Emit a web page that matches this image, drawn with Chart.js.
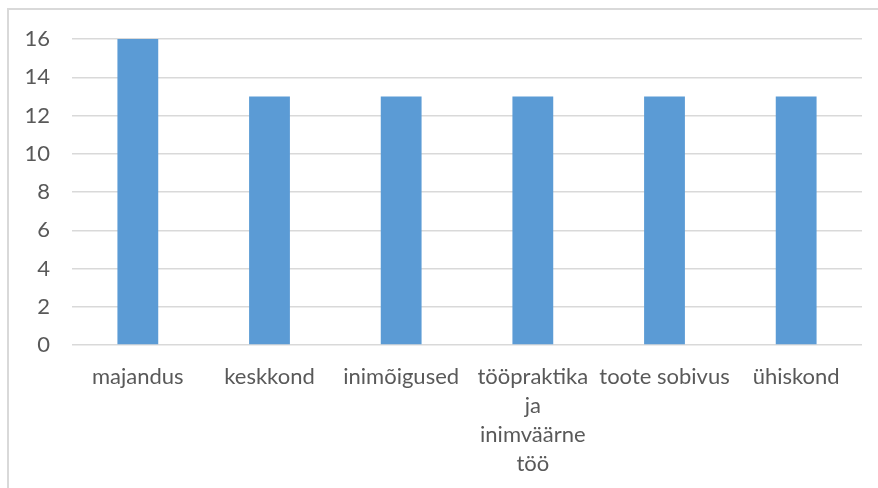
<!DOCTYPE html>
<html>
<head>
<meta charset="utf-8">
<script src="https://cdn.jsdelivr.net/npm/chart.js@4/dist/chart.umd.min.js"></script>
<style>
  html, body { margin: 0; padding: 0; background: #fff; overflow: hidden; }
  #box { position: absolute; left: 0; top: 0; width: 878px; height: 488px; }
  #frame { position: absolute; left: 7px; top: 8px; width: 900px; height: 520px; border: 2px solid #d9d9d9; }
</style>
</head>
<body>
<div id="frame"></div>
<div id="box"><canvas id="chart"></canvas></div>
<script>
const categories = [
  'majandus',
  'keskkond',
  'inimõigused',
  ['tööpraktika', 'ja', 'inimväärne', 'töö'],
  'toote sobivus',
  'ühiskond'
]
const values = [16, 13, 13, 13, 13, 13]
const yTicks = [0, 2, 4, 6, 8, 10, 12, 14, 16]

new Chart(document.getElementById('chart'), {
  type: 'bar',
  data: {
    labels: categories,
    datasets: [{
      label: 'Series 1',
      data: values,
      backgroundColor: '#5b9bd5',
      barPercentage: 0.31,
      categoryPercentage: 1
    }]
  },
  options: {
    responsive: true,
    maintainAspectRatio: false,
    animation: false,
    layout: { padding: { top: 39, right: 16, left: 0, bottom: 0 } },
    plugins: {
      legend: { display: false },
      tooltip: { enabled: false }
    },
    scales: {
      x: {
        grid: { display: false },
        border: { display: false },
        ticks: {
          color: '#595959',
          font: { family: 'Lato, "Open Sans", sans-serif', size: 22, lineHeight: 1.32 },
          padding: 9,
          maxRotation: 0,
          autoSkip: false
        },
        afterFit: function (scale) { scale.height = 143 }
      },
      y: {
        min: 0,
        max: 16,
        afterBuildTicks: function (scale) {
          scale.ticks = yTicks.map(v => ({ value: v }))
        },
        grid: { color: '#d9d9d9', lineWidth: 1.5, drawTicks: false },
        border: { display: false },
        ticks: {
          color: '#595959',
          font: { family: 'Lato, "Open Sans", sans-serif', size: 22 },
          padding: 22
        },
        afterFit: function (scale) { scale.width = 72 }
      }
    }
  }
})
</script>
</body>
</html>
